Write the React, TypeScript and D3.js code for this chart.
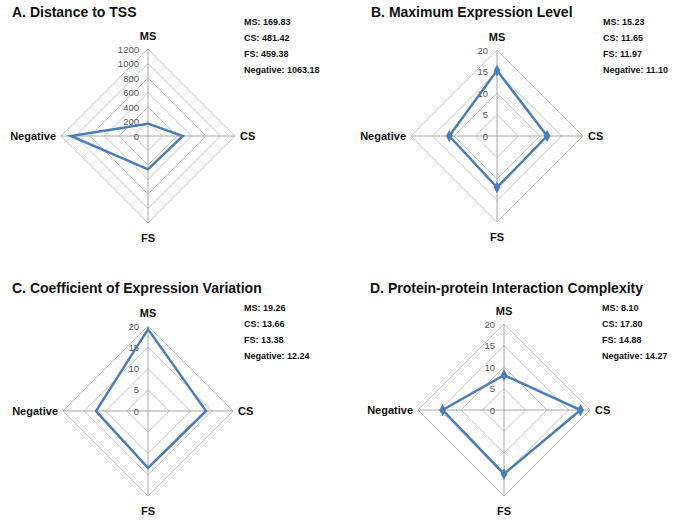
import React from "react";
import * as d3 from "d3";

const axes = ["MS", "CS", "FS", "Negative"];

const titles = [
  "A. Distance to TSS",
  "B. Maximum Expression Level",
  "C. Coefficient of Expression Variation",
  "D. Protein-protein Interaction Complexity",
];

const valuesA = [169.83, 481.42, 459.38, 1063.18];
const valuesB = [15.23, 11.65, 11.97, 11.1];
const valuesC = [19.26, 13.66, 13.38, 12.24];
const valuesD = [8.1, 17.8, 14.88, 14.27];

const labelsA = ["169.83", "481.42", "459.38", "1063.18"];
const labelsB = ["15.23", "11.65", "11.97", "11.10"];
const labelsC = ["19.26", "13.66", "13.38", "12.24"];
const labelsD = ["8.10", "17.80", "14.88", "14.27"];

const ticksA = [0, 200, 400, 600, 800, 1000, 1200];
const ticksB = [0, 5, 10, 15, 20];
const ticksC = [0, 5, 10, 15, 20];
const ticksD = [0, 5, 10, 15, 20];

const panels = [
  { title: titles[0], values: valuesA, labels: labelsA, ticks: ticksA, markers: false, cx: 148, cy: 136, r: 87, tx: 12, ty: 17, ax: 244, ay: 25 },
  { title: titles[1], values: valuesB, labels: labelsB, ticks: ticksB, markers: true, cx: 497, cy: 136, r: 86, tx: 371, ty: 17, ax: 603, ay: 25 },
  { title: titles[2], values: valuesC, labels: labelsC, ticks: ticksC, markers: false, cx: 148, cy: 411, r: 85, tx: 12, ty: 293, ax: 244, ay: 311 },
  { title: titles[3], values: valuesD, labels: labelsD, ticks: ticksD, markers: true, cx: 504, cy: 410, r: 86, tx: 370, ty: 293, ax: 602, ay: 311 },
];

const BLUE = "#4a7ebb";
const FONT = "'Liberation Sans', Arial, sans-serif";

function Radar({ p }: { p: any }) {
  const maxT = p.ticks[p.ticks.length - 1];
  const rScale = d3.scaleLinear().domain([0, maxT]).range([0, p.r]);
  const angle = (i: number) => (i * 2 * Math.PI) / axes.length;
  const ring = d3
    .lineRadial<number>()
    .angle((_, i) => angle(i))
    .radius((d) => rScale(d))
    .curve(d3.curveLinearClosed);
  const pt = (i: number, v: number) => {
    const a = angle(i);
    return [rScale(v) * Math.sin(a), -rScale(v) * Math.cos(a)];
  };
  const labelPos = [
    { x: 0, y: -p.r - 9, anchor: "middle" },
    { x: p.r + 5, y: 4, anchor: "start" },
    { x: 0, y: p.r + 19, anchor: "middle" },
    { x: -p.r - 5, y: 4, anchor: "end" },
  ];
  return (
    <g>
      <text x={p.tx} y={p.ty} fontFamily={FONT} fontWeight="bold" fontSize={14} fill="#111">
        {p.title}
      </text>
      {axes.map((a, i) => (
        <text key={a} x={p.ax} y={p.ay + i * 16} fontFamily={FONT} fontWeight="bold" fontSize={9} fill="#111">
          {`${a}: ${p.labels[i]}`}
        </text>
      ))}
      <g transform={`translate(${p.cx},${p.cy})`}>
        {p.ticks.slice(1).map((t: number) => (
          <path key={t} d={ring(axes.map(() => t)) || ""} fill="none" stroke="#c4c4c4" strokeWidth={1} />
        ))}
        {axes.map((a, i) => {
          const [x, y] = pt(i, maxT);
          return <line key={a} x1={0} y1={0} x2={x} y2={y} stroke="#a6a6a6" strokeWidth={1} />;
        })}
        {p.ticks.map((t: number) => (
          <text key={t} x={-9} y={-rScale(t) + 3.5} textAnchor="end" fontFamily={FONT} fontSize={9.5} fill="#595959">
            {t}
          </text>
        ))}
        <path d={ring(p.values) || ""} fill="none" stroke={BLUE} strokeWidth={2.5} strokeLinejoin="miter" />
        {p.markers &&
          p.values.map((v: number, i: number) => {
            const [x, y] = pt(i, v);
            return <path key={i} d={d3.symbol(d3.symbolDiamond, 40)() || ""} transform={`translate(${x},${y})`} fill={BLUE} />;
          })}
        {axes.map((a, i) => (
          <text key={a} x={labelPos[i].x} y={labelPos[i].y} textAnchor={labelPos[i].anchor as any} fontFamily={FONT} fontWeight="bold" fontSize={11} fill="#111">
            {a}
          </text>
        ))}
      </g>
    </g>
  );
}

export default function App() {
  return (
    <svg width={675} height={523} style={{ position: "absolute", left: 0, top: 0, background: "#fff" }}>
      <rect width={675} height={523} fill="#fff" />
      {panels.map((p, i) => (
        <Radar key={i} p={p} />
      ))}
    </svg>
  );
}
